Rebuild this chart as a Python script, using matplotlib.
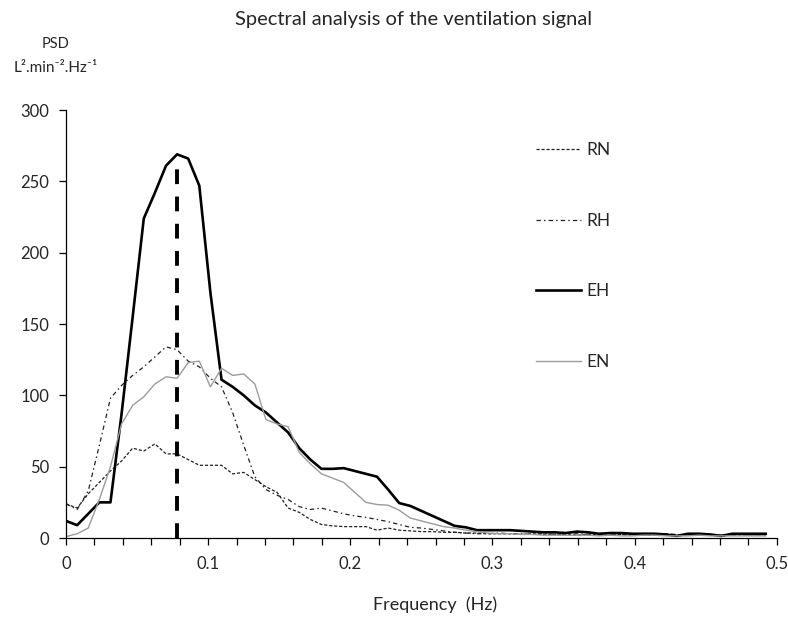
import numpy as np
import matplotlib.pyplot as plt

# PSD of the ventilation signal, one value per frequency bin (step 1/128 Hz)
freq_step = 1 / 128

RN = [24, 21, 31, 39, 47, 54, 63, 61, 66, 59, 59, 55, 51, 51, 51, 45,
      46, 41, 36, 32, 21, 18, 13, 9.5, 8.5, 8, 8, 8, 5.5, 7, 5.5, 5,
      4.5, 4.5, 4, 4, 3.5, 3.5, 3, 3, 3, 2.5, 3, 2.5, 2.5, 2.5, 2, 2.5,
      2, 2, 2.5, 2, 2, 2, 2.5, 2, 2, 2, 2, 2, 2, 2, 2, 2]

RH = [24, 20, 33, 65, 98, 107, 114, 120, 127, 134, 132, 124, 120, 112, 106, 88,
      65, 43, 34, 30, 27, 22, 20, 21, 19, 17, 15.5, 14.5, 13, 11.5, 9.5, 7.5,
      7, 6, 5, 4, 3.5, 3, 3, 3.5, 3, 3, 2.5, 3, 2.5, 2.5, 3, 2.5,
      2, 2.5, 2.5, 2, 2, 2.5, 3, 2.5, 2, 2.5, 2, 2, 2, 2, 2, 2]

EH = [12, 9, 17, 25, 25, 87, 155, 224, 242, 261, 269, 266, 247, 172, 111, 106,
      100, 93, 88, 81, 74, 63, 55, 48.5, 48.5, 49, 47, 45, 43, 34, 24.5, 22.5,
      19, 15.5, 12, 8.5, 7.5, 5.5, 5.5, 5.5, 5.5, 5, 4.5, 4, 4, 3.5, 4.5, 4,
      3, 3.5, 3.5, 3, 3, 3, 2.5, 1.5, 3, 3, 2.5, 1.5, 3, 3, 3, 3]

EN = [1, 3, 7, 27, 50, 80, 93, 99, 108, 113, 112, 123, 124, 106, 119, 114,
      115, 108, 83, 80, 78, 60, 52, 45, 42, 39, 32, 25, 23.5, 23, 19.5, 14,
      12, 10, 8, 7, 5.5, 4.5, 3.5, 3, 3, 2.5, 2.5, 2, 2, 2, 2, 2,
      1.5, 2, 1.5, 1.5, 2, 2, 1.5, 1.5, 1.5, 2, 1.5, 1.5, 1.5, 1.5, 1.5, 1.5]

x_ticks = [0, 0.1, 0.2, 0.3, 0.4, 0.5]
x_tick_labels = ['0', '0.1', '0.2', '0.3', '0.4', '0.5']
y_ticks = [0, 50, 100, 150, 200, 250, 300]

freq = np.arange(len(EH)) * freq_step
peak_freq = freq[int(np.argmax(EH))]

plt.rcParams['font.family'] = ['Lato', 'DejaVu Sans']
text_col = '#262626'

fig = plt.figure(figsize=(7.88, 6.22), dpi=100)
ax = fig.add_axes([0.0838, 0.135, 0.902, 0.688])

ax.plot(freq, RN, color='#222222', lw=0.9, ls=(0, (2.5, 1.5)), label='RN')
ax.plot(freq, RH, color='#222222', lw=0.9, ls=(0, (3.5, 2.5, 1.2, 2.5)), label='RH')
ax.plot(freq, EH, color='black', lw=1.9, label='EH')
ax.plot(freq, EN, color='#9c9c9c', lw=1.0, label='EN')

# dashed marker at the EH peak frequency
ax.vlines(peak_freq, 0, 259, color='black', lw=2.8, linestyles=(0, (3.8, 3.2)))

ax.set_xlim(0, 0.5)
ax.set_ylim(0, 300)
ax.set_xticks(x_ticks)
ax.set_xticklabels(x_tick_labels)
ax.set_xticks(np.arange(0, 0.5001, 0.02), minor=True)
ax.set_yticks(y_ticks)

for s in ['top', 'right']:
    ax.spines[s].set_visible(False)
for s in ['left', 'bottom']:
    ax.spines[s].set_color('black')
    ax.spines[s].set_linewidth(0.9)

ax.tick_params(axis='both', which='both', direction='out', length=5, width=0.9,
               colors='black', labelcolor=text_col, labelsize=12)
ax.tick_params(axis='x', which='major', pad=8)
ax.tick_params(axis='y', which='major', pad=7)

leg = ax.legend(loc='center left', bbox_to_anchor=(0.661, 0.659), frameon=False,
                borderpad=0, borderaxespad=0, handlelength=2.6, handletextpad=0.3,
                labelspacing=3.15, fontsize=12.5)
for t in leg.get_texts():
    t.set_color(text_col)

fig.text(414 / 788, 1 - 20 / 622, 'Spectral analysis of the ventilation signal',
         ha='center', va='center', fontsize=14.5, color=text_col)
fig.text(56 / 788, 1 - 44 / 622, 'PSD', ha='center', va='center',
         fontsize=10.5, color=text_col)
fig.text(56 / 788, 1 - 68 / 622, 'L².min⁻².Hz⁻¹', ha='center', va='center',
         fontsize=11, color=text_col)
fig.text(435 / 788, 1 - 605 / 622, 'Frequency  (Hz)', ha='center', va='center',
         fontsize=13, color=text_col)

fig.savefig('out.png', dpi=100)
